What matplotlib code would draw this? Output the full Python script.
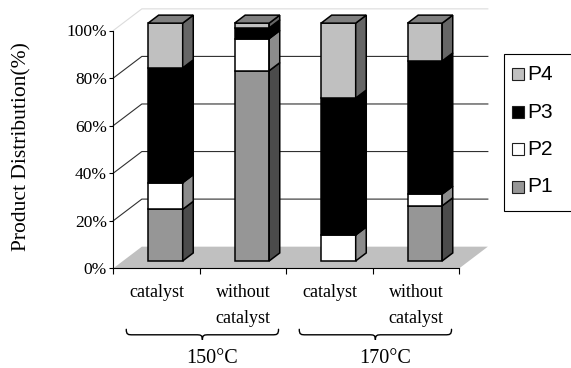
import matplotlib
matplotlib.use("Agg")
import matplotlib.pyplot as plt
from matplotlib.patches import Polygon, Rectangle, PathPatch
from matplotlib.path import Path
import matplotlib.transforms as mtransforms

# --- data (percent of each product, one entry per reaction run) ---
conditions = ["catalyst", "without\ncatalyst", "catalyst", "without\ncatalyst"]
temperatures = ["150°C", "170°C"]
products = ["P1", "P2", "P3", "P4"]
p1 = [21.7, 80.0, 0.0, 23.2]
p2 = [11.2, 13.5, 10.9, 4.9]
p3 = [48.3, 4.5, 57.6, 56.0]
p4 = [18.8, 2.0, 31.5, 15.9]
yticks = [0, 20, 40, 60, 80, 100]

series = [p1, p2, p3, p4]
front_col = {"P1": "#969696", "P2": "#ffffff", "P3": "#000000", "P4": "#c0c0c0"}
side_col = {"P1": "#4b4b4b", "P2": "#8c8c8c", "P3": "#000000", "P4": "#666666"}
top_col = "#808080"

SERIF = "Liberation Serif"
SANS = "Liberation Sans"

W, H = 571, 368
PX = 0.72  # points per pixel at dpi 100

fig = plt.figure(figsize=(W / 100, H / 100), dpi=100)
ax_l, ax_b, ax_r, ax_t = 113.3, 268.3, 459.3, 30.5
ax = fig.add_axes([ax_l / W, 1 - ax_b / H, (ax_r - ax_l) / W, (ax_b - ax_t) / H])
ax.set_xlim(0, len(conditions))
ax.set_ylim(0, 100)
ax.patch.set_visible(False)
ax_h_px = ax_b - ax_t

# oblique depth offset (data units) used for the pseudo-3D look
DX, DY = 0.33, 9.1


def proj(x, v, d):
    return (x + d * DX, v + d * DY)


# floor
n = len(conditions)
ax.add_patch(Polygon([proj(0, 0, 0), proj(n, 0, 0), proj(n, 0, 1), proj(0, 0, 1)],
                     closed=True, facecolor="#c0c0c0", edgecolor="none",
                     zorder=0.5, clip_on=False))

# side-wall diagonals + back-wall gridlines
for v in yticks[1:]:
    col = "#dcdcdc" if v == 100 else "#303030"
    xs = [proj(0, v, 0)[0], proj(0, v, 1)[0], proj(n, v, 1)[0]]
    ys = [proj(0, v, 0)[1], proj(0, v, 1)[1], proj(n, v, 1)[1]]
    ax.plot(xs, ys, color=col, lw=0.8, zorder=1, clip_on=False)

# bars
bx0, bx1 = 0.29, 0.69
d0, d1 = 0.34, 0.71
edge_kw = dict(edgecolor="black", lw=1.1, joinstyle="miter", clip_on=False, zorder=3)
for i in range(n):
    base = 0.0
    for name, vals in zip(products, series):
        v = vals[i]
        if v <= 0:
            continue
        top = base + v
        x0, x1 = i + bx0, i + bx1
        ax.add_patch(Polygon([proj(x0, base, d0), proj(x1, base, d0),
                              proj(x1, top, d0), proj(x0, top, d0)],
                             closed=True, facecolor=front_col[name], **edge_kw))
        ax.add_patch(Polygon([proj(x1, base, d0), proj(x1, base, d1),
                              proj(x1, top, d1), proj(x1, top, d0)],
                             closed=True, facecolor=side_col[name], **edge_kw))
        base = top
    x0, x1 = i + bx0, i + bx1
    ax.add_patch(Polygon([proj(x0, base, d0), proj(x1, base, d0),
                          proj(x1, base, d1), proj(x0, base, d1)],
                         closed=True, facecolor=top_col, **edge_kw))

# axes
for s in ["top", "right"]:
    ax.spines[s].set_visible(False)
for s in ["left", "bottom"]:
    ax.spines[s].set_linewidth(0.8)
    ax.spines[s].set_zorder(2)
ax.set_yticks(yticks)
ax.set_yticklabels([f"{t}%" for t in yticks], fontfamily=SERIF, fontsize=12.5)
ax.set_xticks(range(n + 1))
ax.set_xticklabels([])
ax.tick_params(axis="y", direction="out", length=4 * PX, width=0.8, pad=2.5 * PX)
ax.tick_params(axis="x", direction="out", length=6 * PX, width=0.8)

# category labels under each bar
for i, lab in enumerate(conditions):
    for k, line in enumerate(lab.split("\n")):
        ax.annotate(line, xy=(i + 0.5, 0), xycoords="data",
                    xytext=(0, -(28.4 + 26.6 * k) * PX), textcoords="offset points",
                    ha="center", va="baseline", fontfamily=SERIF, fontsize=13)

# curly braces grouping the two temperatures
btr = mtransforms.blended_transform_factory(ax.transData, ax.transAxes)


def brace(xc, half, r=0.075):
    ye, ym, yt = [-p / ax_h_px for p in (61.0, 66.5, 71.5)]
    xa, xb = xc - half, xc + half
    verts = [(xa, ye),
             (xa, ym), (xa + 0.3 * r, ym), (xa + r, ym),
             (xc - r, ym),
             (xc - 0.3 * r, ym), (xc, ym), (xc, yt),
             (xc, ym), (xc + 0.3 * r, ym), (xc + r, ym),
             (xb - r, ym),
             (xb - 0.3 * r, ym), (xb, ym), (xb, ye)]
    codes = [Path.MOVETO,
             Path.CURVE4, Path.CURVE4, Path.CURVE4,
             Path.LINETO,
             Path.CURVE4, Path.CURVE4, Path.CURVE4,
             Path.CURVE4, Path.CURVE4, Path.CURVE4,
             Path.LINETO,
             Path.CURVE4, Path.CURVE4, Path.CURVE4]
    ax.add_patch(PathPatch(Path(verts, codes), transform=btr, facecolor="none",
                           edgecolor="black", lw=1.0, capstyle="round", clip_on=False))


for g, temp in enumerate(temperatures):
    brace(2 * g + 1.03, 0.88)
    ax.annotate(temp, xy=(2 * g + 1.14, 0), xycoords="data",
                xytext=(0, -95.0 * PX), textcoords="offset points",
                ha="center", va="baseline", fontfamily=SERIF, fontsize=14.5)

# y label
fig.text(22 / W, 1 - 147 / H, "Product Distribution(%)", rotation=90,
         ha="center", va="center", fontfamily=SERIF, fontsize=15.5)

# legend (top entry first), box runs off the right edge
lax = fig.add_axes([0, 0, 1, 1])
lax.set_xlim(0, W)
lax.set_ylim(H, 0)
lax.axis("off")
lax.add_patch(Rectangle((503.5, 53.5), 200, 157, facecolor="white",
                        edgecolor="black", lw=0.8, clip_on=False))
for k, name in enumerate(products[::-1]):
    yc = 74 + 37.5 * k
    lax.add_patch(Rectangle((512, yc - 6), 12, 12, facecolor=front_col[name],
                            edgecolor="#202020", lw=0.8))
    lax.text(527, yc + 0.5, name, ha="left", va="center", fontfamily=SANS, fontsize=15)

fig.savefig("out.png", dpi=100)
